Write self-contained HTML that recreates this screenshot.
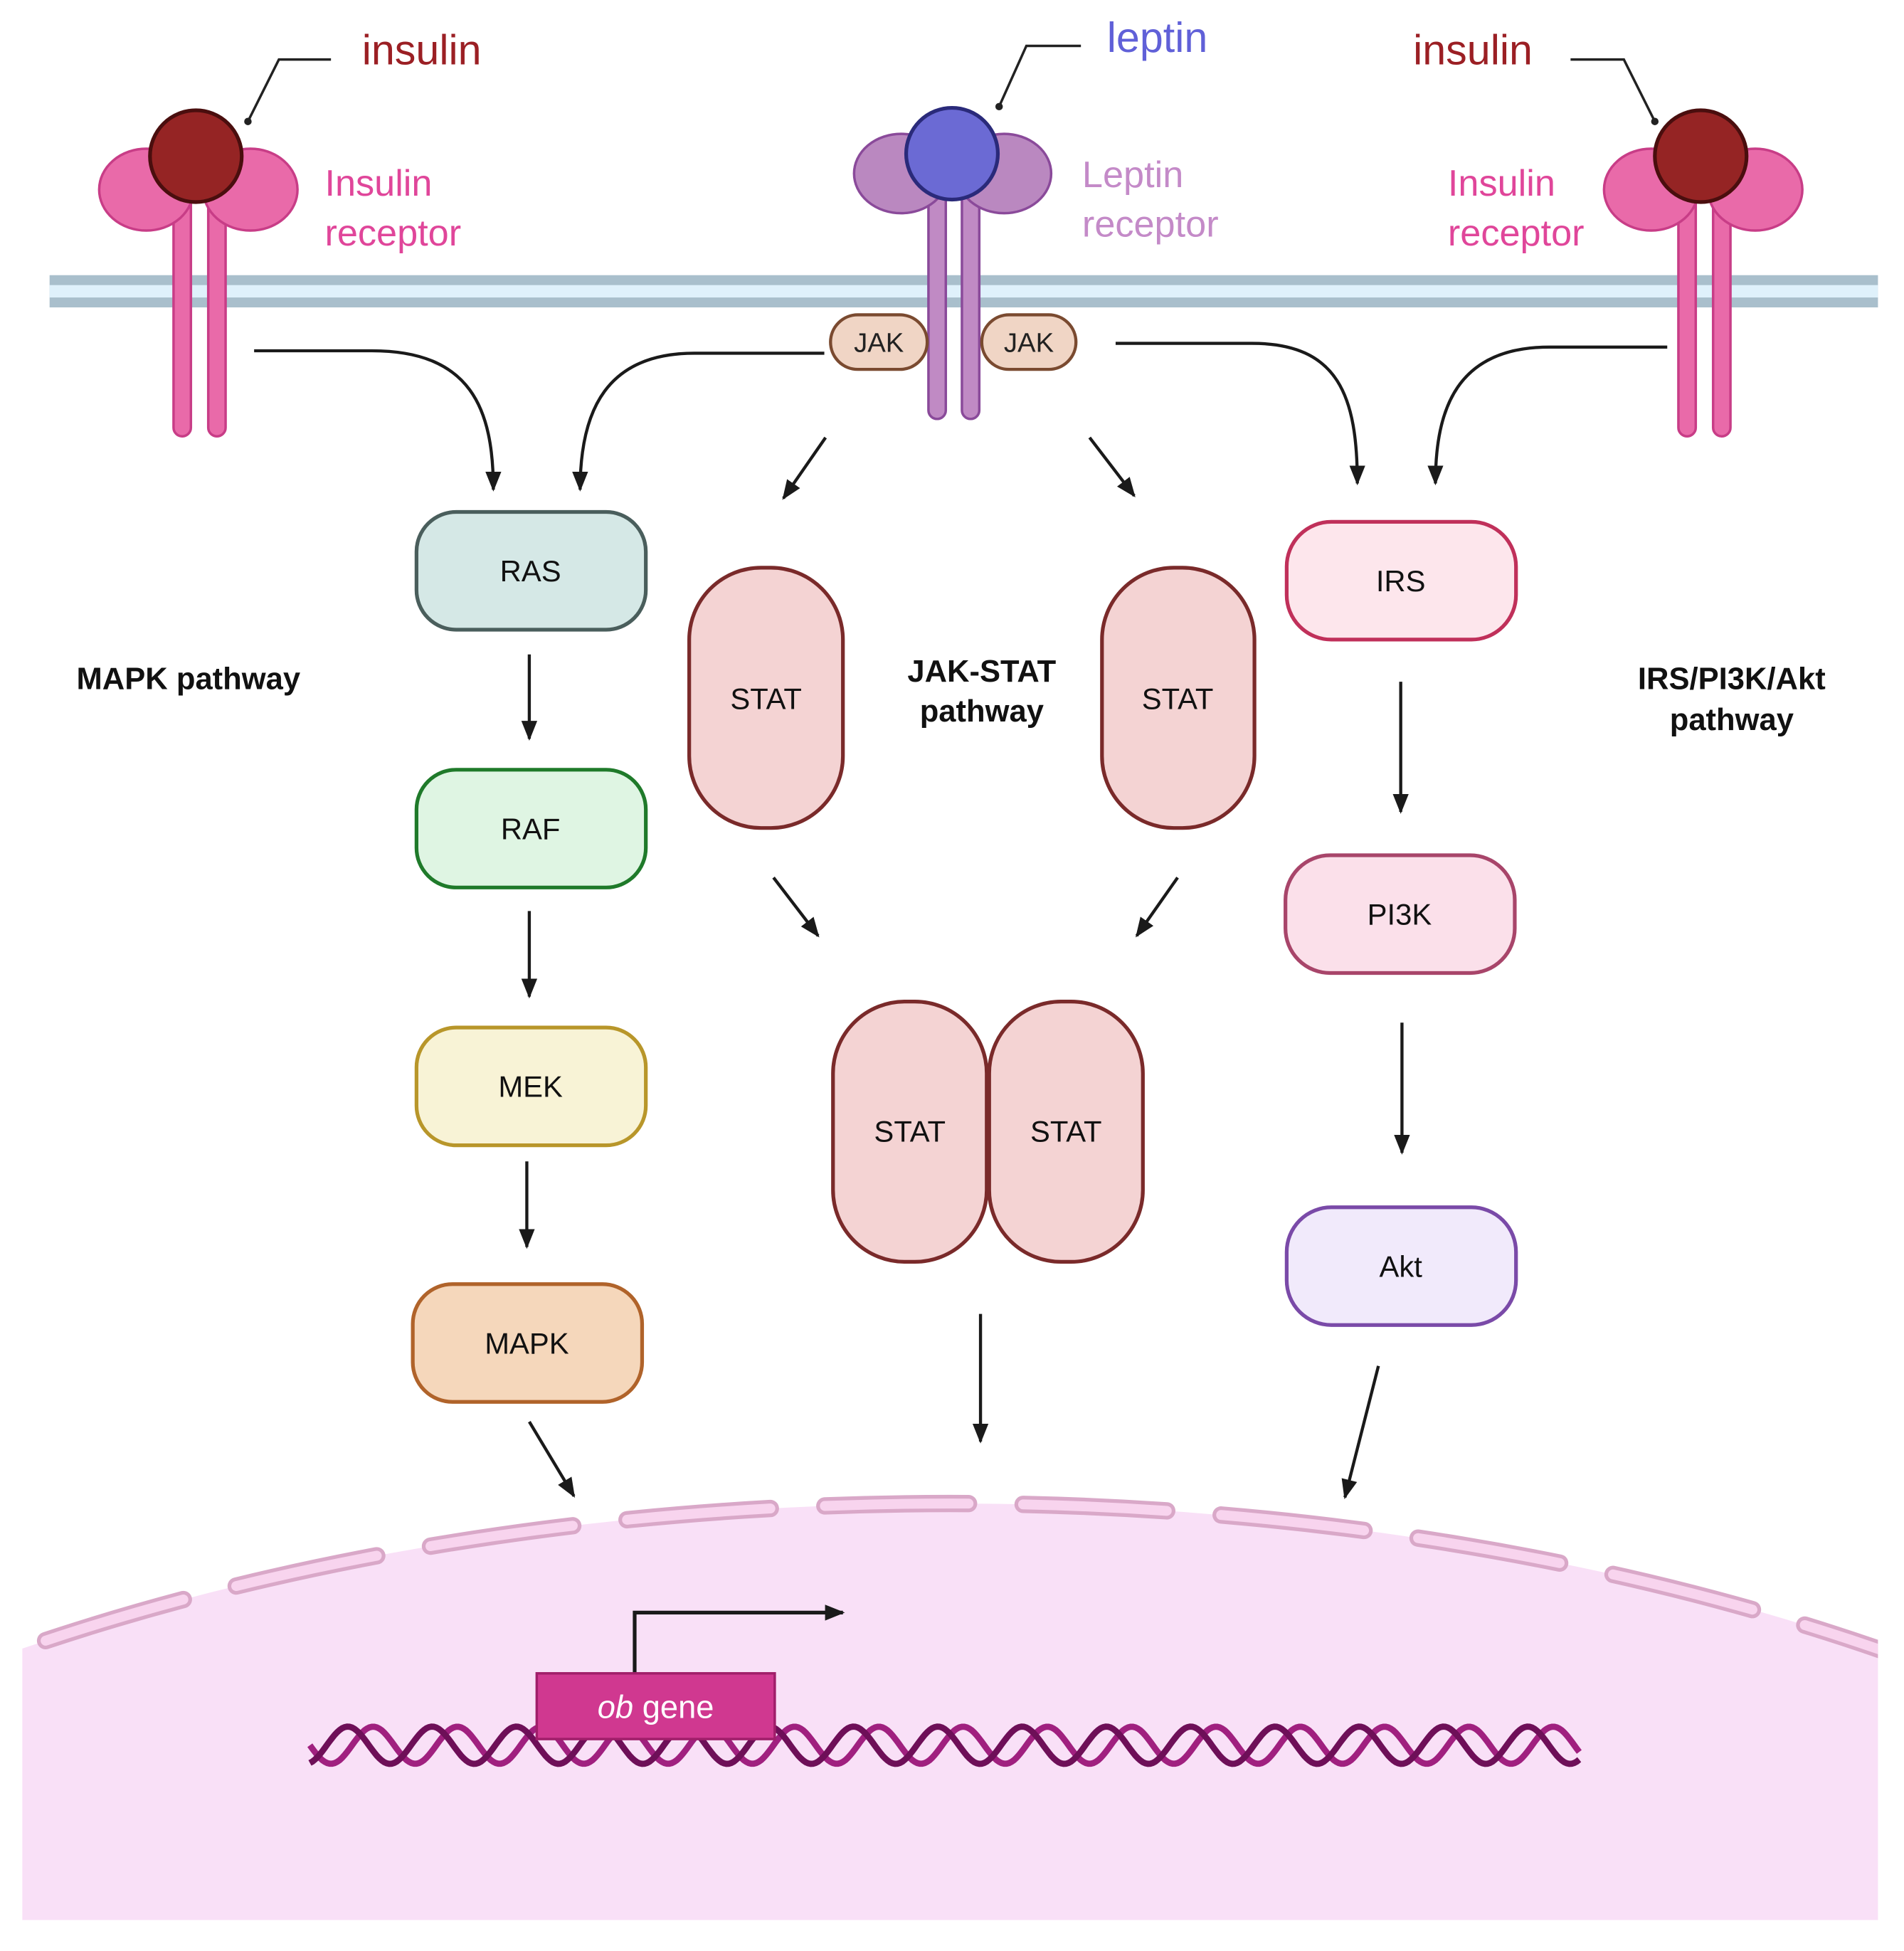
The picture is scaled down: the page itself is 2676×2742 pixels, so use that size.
<!DOCTYPE html>
<html><head><meta charset="utf-8"><style>
html,body{margin:0;padding:0;background:#fff;overflow:hidden;width:2676px;height:2742px}
svg{display:block}
text{font-family:"Liberation Sans",sans-serif}
</style></head><body>
<svg width="2676" height="2742" viewBox="0 0 1536 1574" preserveAspectRatio="none" xmlns="http://www.w3.org/2000/svg" overflow="hidden">
<defs>
<marker id="ah2" viewBox="0 0 10 10" refX="9" refY="5" markerWidth="16" markerHeight="16" orient="auto" markerUnits="userSpaceOnUse">
<path d="M0,1 L10,5 L0,9 z" fill="#1a1a1a"/></marker>
<clipPath id="nc"><rect x="18" y="1100" width="1497" height="449"/></clipPath>
</defs>
<rect width="1536" height="1574" fill="#fff"/>
<g clip-path="url(#nc)">
<ellipse cx="766" cy="1900" rx="1340" ry="687" fill="#f9e0f7"/>
<ellipse cx="766" cy="1900" rx="1340" ry="687" fill="none" stroke="#d9a8c8" stroke-width="14" stroke-dasharray="116 44" stroke-linecap="round"/>
<ellipse cx="766" cy="1900" rx="1340" ry="687" fill="none" stroke="#f8d4ee" stroke-width="8" stroke-dasharray="116 44" stroke-linecap="round"/>
</g>
<rect x="40" y="222" width="1475" height="26" fill="#a9bfcc"/>
<rect x="40" y="230" width="1475" height="10" fill="#dff1fb"/>
<g id="dna" fill="none" stroke-width="5"></g>
<path d="M512,1350 L512,1301 L680,1301" fill="none" stroke="#1a1a1a" stroke-width="3" marker-end="url(#ah2)"/>
<rect x="433" y="1350" width="192" height="53" fill="#d03890" stroke="#a01e6a" stroke-width="2"/>
<text x="529" y="1386" font-size="26" fill="#fff" text-anchor="middle"><tspan font-style="italic">ob</tspan> gene</text>

<g transform="translate(160,0)">
<rect x="-20" y="150" width="14" height="202" rx="7" fill="#e96aa9" stroke="#c83d87" stroke-width="2"/>
<rect x="8" y="150" width="14" height="202" rx="7" fill="#e96aa9" stroke="#c83d87" stroke-width="2"/>
<ellipse cx="-42" cy="153" rx="38" ry="33" fill="#e96aa9" stroke="#c83d87" stroke-width="2"/>
<ellipse cx="42" cy="153" rx="38" ry="33" fill="#e96aa9" stroke="#c83d87" stroke-width="2"/>
<circle cx="-2" cy="126" r="37" fill="#952424" stroke="#4a0e0e" stroke-width="3"/>
</g>
<g transform="translate(1374,0)">
<rect x="-20" y="150" width="14" height="202" rx="7" fill="#e96aa9" stroke="#c83d87" stroke-width="2"/>
<rect x="8" y="150" width="14" height="202" rx="7" fill="#e96aa9" stroke="#c83d87" stroke-width="2"/>
<ellipse cx="-42" cy="153" rx="38" ry="33" fill="#e96aa9" stroke="#c83d87" stroke-width="2"/>
<ellipse cx="42" cy="153" rx="38" ry="33" fill="#e96aa9" stroke="#c83d87" stroke-width="2"/>
<circle cx="-2" cy="126" r="37" fill="#952424" stroke="#4a0e0e" stroke-width="3"/>
</g>
<g transform="translate(769,0)">
<rect x="-20" y="140" width="14" height="198" rx="7" fill="#c08ac4" stroke="#8a4a9a" stroke-width="2"/>
<rect x="7" y="140" width="14" height="198" rx="7" fill="#c08ac4" stroke="#8a4a9a" stroke-width="2"/>
<ellipse cx="-42" cy="140" rx="38" ry="32" fill="#ba88c0" stroke="#8a4a9a" stroke-width="2"/>
<ellipse cx="41" cy="140" rx="38" ry="32" fill="#ba88c0" stroke="#8a4a9a" stroke-width="2"/>
<circle cx="-1" cy="124" r="37" fill="#6b6ad4" stroke="#2a2a7a" stroke-width="3"/>
</g>
<rect x="670" y="254" width="78" height="44" rx="22" fill="#f0d5c5" stroke="#7a4a30" stroke-width="2.5"/>
<rect x="792" y="254" width="76" height="44" rx="22" fill="#f0d5c5" stroke="#7a4a30" stroke-width="2.5"/>
<text x="709" y="284" font-size="22" text-anchor="middle" fill="#222">JAK</text>
<text x="830" y="284" font-size="22" text-anchor="middle" fill="#222">JAK</text>

<g fill="none" stroke="#222" stroke-width="2">
<path d="M267,48 L225,48 L200,98"/><path d="M872,37 L828,37 L806,86"/><path d="M1267,48 L1310,48 L1335,98"/>
</g>
<circle cx="200" cy="98" r="3" fill="#222"/><circle cx="806" cy="86" r="3" fill="#222"/><circle cx="1335" cy="98" r="3" fill="#222"/>
<text x="292" y="52" font-size="34" fill="#9b1f24">insulin</text>
<text x="893" y="42" font-size="34" fill="#6060d8">leptin</text>
<text x="1140" y="52" font-size="34" fill="#9b1f24">insulin</text>
<text x="262" y="158" font-size="30" fill="#e0469a">Insulin</text>
<text x="262" y="198" font-size="30" fill="#e0469a">receptor</text>
<text x="873" y="151" font-size="30" fill="#c48ac8">Leptin</text>
<text x="873" y="191" font-size="30" fill="#c48ac8">receptor</text>
<text x="1168" y="158" font-size="30" fill="#e0469a">Insulin</text>
<text x="1168" y="198" font-size="30" fill="#e0469a">receptor</text>
<g font-size="25" font-weight="bold" fill="#111" text-anchor="middle">
<text x="152" y="556">MAPK pathway</text>
<text x="792" y="550">JAK-STAT</text><text x="792" y="582">pathway</text>
<text x="1397" y="556">IRS/PI3K/Akt</text><text x="1397" y="589">pathway</text>
</g>

<g stroke-width="3">
<rect x="336" y="413" width="185" height="95" rx="32" fill="#d5e8e6" stroke="#4a5e5c"/>
<rect x="336" y="621" width="185" height="95" rx="32" fill="#dff5e3" stroke="#1f7a2a"/>
<rect x="336" y="829" width="185" height="95" rx="32" fill="#f8f3d6" stroke="#b8962a"/>
<rect x="333" y="1036" width="185" height="95" rx="32" fill="#f5d7bb" stroke="#b0632a"/>
<rect x="1038" y="421" width="185" height="95" rx="36" fill="#fde6ec" stroke="#c0305a"/>
<rect x="1037" y="690" width="185" height="95" rx="36" fill="#fbe0ea" stroke="#a8456a"/>
<rect x="1038" y="974" width="185" height="95" rx="36" fill="#f1eafb" stroke="#7a4aa8"/>
<rect x="556" y="458" width="124" height="210" rx="58" fill="#f4d3d3" stroke="#7a2a2a"/>
<rect x="889" y="458" width="123" height="210" rx="58" fill="#f4d3d3" stroke="#7a2a2a"/>
<rect x="672" y="808" width="124" height="210" rx="58" fill="#f4d3d3" stroke="#7a2a2a"/>
<rect x="798" y="808" width="124" height="210" rx="58" fill="#f4d3d3" stroke="#7a2a2a"/>
</g>
<g font-size="24" fill="#111" text-anchor="middle">
<text x="428" y="469">RAS</text><text x="428" y="677">RAF</text><text x="428" y="885">MEK</text><text x="425" y="1092">MAPK</text>
<text x="1130" y="477">IRS</text><text x="1129" y="746">PI3K</text><text x="1130" y="1030">Akt</text>
<text x="618" y="572">STAT</text><text x="950" y="572">STAT</text><text x="734" y="921">STAT</text><text x="860" y="921">STAT</text>
</g>

<g fill="none" stroke="#1a1a1a" stroke-width="2.5" marker-end="url(#ah2)">
<path d="M427,528 L427,596"/><path d="M427,735 L427,804"/><path d="M425,937 L425,1006"/>
<path d="M1130,550 L1130,655"/><path d="M1131,825 L1131,930"/>
<path d="M427,1147 L463,1207"/><path d="M791,1060 L791,1163"/><path d="M1112,1102 L1085,1208"/>
<path d="M666,353 L632,402"/><path d="M879,353 L915,400"/>
<path d="M624,708 L660,755"/><path d="M950,708 L917,755"/>
<path d="M205,283 L300,283 C380,283 398,330 398,395"/>
<path d="M665,285 L560,285 C490,285 468,330 468,395"/>
<path d="M900,277 L1010,277 C1080,277 1095,320 1095,390"/>
<path d="M1345,280 L1250,280 C1175,280 1158,330 1158,390"/>
</g>
<script>
(function(){
var g=document.getElementById('dna');var ns="http://www.w3.org/2000/svg";
var specs=[[0,"#a0207f"],[Math.PI*0.6,"#6e0f58"]];
var P=68,A=15,cy=1408;
specs.forEach(function(s){var d="";for(var x=250;x<=1275;x+=2){var y=cy+A*Math.sin(2*Math.PI*(x-250)/P+s[0]);d+=(x==250?"M":"L")+x+","+y.toFixed(1);}
var p=document.createElementNS(ns,"path");p.setAttribute("d",d);p.setAttribute("stroke",s[1]);g.appendChild(p);});
})();
</script>
</svg>
</body></html>
